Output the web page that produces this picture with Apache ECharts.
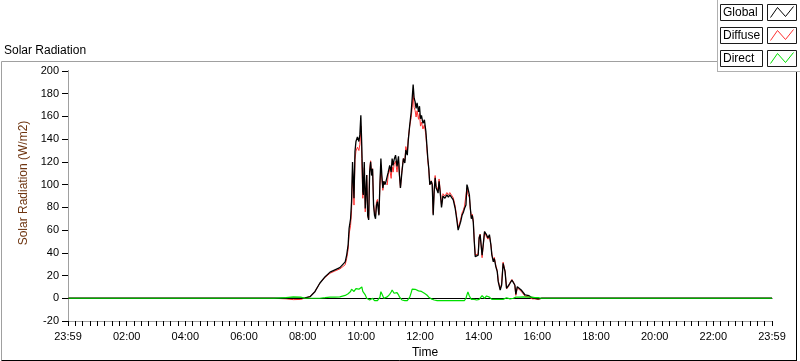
<!DOCTYPE html>
<html>
<head>
<meta charset="utf-8">
<script src="https://cdn.jsdelivr.net/npm/echarts@6/dist/echarts.min.js"></script>
<style>
html,body{margin:0;padding:0;background:#fff;}
#chart{width:800px;height:361px;}
</style>
</head>
<body>
<div id="chart"></div>
<script>
// ---- data ----
var seriesNames = ["Global", "Diffuse", "Direct"];
var xTickLabels = ["23:59","02:00","04:00","06:00","08:00","10:00","12:00","14:00","16:00","18:00","20:00","22:00","23:59"];
var yTicks = [-20, 0, 20, 40, 60, 80, 100, 120, 140, 160, 180, 200];

var times = ["00:00","07:00","07:25","07:40","07:55","08:04","08:14","08:24","08:34","08:45","08:55","09:05","09:15","09:26","09:29","09:32","09:34","09:37","09:39","09:41","09:44","09:46","09:48","09:51","09:54","09:56","09:58",
"10:00","10:02","10:03","10:05","10:07","10:10","10:12","10:14","10:16","10:18","10:20","10:22","10:24","10:26","10:28","10:30","10:32","10:35","10:37","10:39","10:41","10:43","10:45","10:47","10:49","10:52","10:54","10:57",
"11:00","11:02","11:04","11:06","11:09","11:12","11:15","11:17","11:19","11:22","11:25","11:28","11:30","11:33","11:35","11:38","11:41","11:43","11:45","11:47","11:49","11:51","11:53","11:56","11:58",
"12:00","12:02","12:05","12:08","12:11","12:13","12:15","12:17","12:19","12:22","12:24","12:26","12:28","12:30","12:32","12:34","12:36","12:38","12:41","12:43","12:46","12:50","12:54","12:57",
"13:00","13:04","13:07","13:11","13:14","13:17","13:19","13:22","13:25","13:28","13:30","13:33","13:35","13:37","13:40","13:42","13:44","13:46","13:48","13:50","13:52","13:55","13:58",
"14:00","14:02","14:04","14:06","14:09","14:11","14:13","14:15","14:18","14:21","14:24","14:26","14:29","14:31","14:34","14:37","14:39","14:43","14:46","14:49","14:53","14:56",
"15:00","15:03","15:07","15:10","15:13","15:15","15:18","15:22","15:26","15:30","15:34","15:38","15:42","15:48","15:54","16:01","16:07","16:20","23:59"];

var globalVals = [0,0,0,0,0,0.3,1.4,5.8,13.2,19,23,25,27,32,38,47,61.6,70,85,120,88,129,138,142,138,144,161,
133,94,91,120,79,108.5,73,69,111,120,108,114,82,73,70,82,85,73,100,123,108,97,103,100,102,101,111,117,
111,123,117,122,126,116,125,108.5,97,111,123,119,130.5,126,139,152.5,164,176,188,176,173,167,172,164,169,
158,161,154,157,147,135,123,114,100,103,100,73,94,106,97,95,92.5,103,90,80,90,88,91,89,
91,92.5,86.5,79,70,60,61.6,67,73,76,79,82,100,97,91,79,70,73,67,50,36.6,35,38,
53,56,47,38,50,58.6,60,56,53,56,47,38,32,35,28,23.4,14.6,7.3,11.7,30.8,23.4,8.8,
10.2,13.2,16,14.6,11.7,3.5,10.2,10.2,7.3,5.8,2.9,4.4,2.3,0.5,0,-0.6,0,0,0];

var diffuseVals = [0,0,-0.5,-1.2,-1,0.3,1.4,5.8,13.2,18.5,22,24,25.8,29.5,35,43,56.6,64,77,113,82,122,129.5,133,130,135.5,151.5,
123,88,86.6,115,76,108.5,72,70,112.5,121,108.5,114,83,75,72.5,85,87,74,99,117.2,104,95,103,101.5,103,99.8,109,113.5,
105.5,115.7,111,117.6,120.5,111,122,107.3,97,112.5,123,121,133.5,128,140.5,151.5,159,168,180,168,165.1,159.5,165,157.5,162.5,
151.5,155,149,152.6,143.5,132.1,121,113,100,103.5,101,74.5,95.5,108,99,97,94.5,105,92,82,92,90,93,91,
93,94.5,88.5,81,72,62,63.6,69,75,78,81,82,97,91.5,89,78.5,71,74,68,51,38.1,36.5,39,
54,56.5,47,35.7,49,58.6,60,54,52,55,47,39,33,36,29,24.4,15.6,8.3,12.7,31.8,23.9,8.3,
10.2,13.7,16.5,14.6,11.2,2.5,9.2,9.2,6.1,4.6,1.7,3.4,1.3,-0.5,-0.5,-1.1,0,0,0];

var directVals = [0,0,0.5,1.2,1,0,0,0,0,0.5,1,1,1.2,2.5,3,4,5,6,8,7,6,7,8.5,9,8,8.5,9.5,
10,6,4.4,5,3,0,1,-1,-1.5,-1,-0.5,0,-1,-2,-2.5,-3,-2,-1,1,5.8,4,2,0,-1.5,-1,1.2,2,3.5,
5.5,7.3,6,4.4,5.5,5,3,1.2,0,-1.5,0,-2,-3,-2,-1.5,1,5,8,8,8,7.9,7.5,7,6.5,6.5,
6.5,6,5,4.4,3.5,2.9,2,1,0,-0.5,-1,-1.5,-1.5,-2,-2,-2,-2,-2,-2,-2,-2,-2,-2,-2,
-2,-2,-2,-2,-2,-2,-2,-2,-2,-2,-2,0,3,5.5,2,0.5,-1,-1,-1,-1,-1.5,-1.5,-1,
-1,-0.5,0,2.3,1,0,0,2,1,1,0,-1,-1,-1,-1,-1,-1,-1,-1,-1,-0.5,0.5,
0,-0.5,-0.5,0,0.5,1,1,1,1.2,1.2,1.2,1,1,1,0.5,0.5,0,0,0];

// ---- helpers ----
function toOffset(t){ // minutes from the axis start (23:59 of the previous day)
  var p = t.split(":");
  return parseInt(p[0],10)*60 + parseInt(p[1],10) + 1;
}
function build(vals){ return times.map(function(t,i){ return [toOffset(t), vals[i]]; }); }

var FONT = "Liberation Sans";
var chart = echarts.init(document.getElementById('chart'), null, {renderer:'canvas'});

function legendRow(y, name, color){
  return [
    {type:'rect', shape:{x:720.5,y:y+0.5,width:42,height:16}, style:{fill:'#fff',stroke:'#1a1a1a',lineWidth:1}, z:101},
    {type:'text', style:{x:723,y:y+9,text:name,font:'12px "'+FONT+'"',fill:'#000',verticalAlign:'middle'}, z:102},
    {type:'rect', shape:{x:767.5,y:y+0.5,width:29,height:16}, style:{fill:'#fff',stroke:'#1a1a1a',lineWidth:1}, z:101},
    {type:'polyline', shape:{points:[[770.5,y+13.5],[777.5,y+3.5],[785.5,y+12.5],[793.5,y+2.5]]}, style:{stroke:color,lineWidth:1,fill:null}, z:102}
  ];
}

var graphics = [
  // outer frame
  {type:'line', shape:{x1:1.5,y1:61.5,x2:796.5,y2:61.5}, style:{stroke:'#a0a0a0',lineWidth:1}, z:50},
  {type:'line', shape:{x1:1.5,y1:61.5,x2:1.5,y2:360.5}, style:{stroke:'#a0a0a0',lineWidth:1}, z:50},
  {type:'line', shape:{x1:1.5,y1:360.5,x2:797,y2:360.5}, style:{stroke:'#000',lineWidth:1}, z:50},
  {type:'line', shape:{x1:796.5,y1:61.5,x2:796.5,y2:361}, style:{stroke:'#000',lineWidth:1}, z:50},
  // chart title
  {type:'text', style:{x:4,y:51,text:'Solar Radiation',font:'12px "'+FONT+'"',fill:'#000',verticalAlign:'middle'}, z:60},
  // legend panel
  {type:'rect', shape:{x:717,y:0,width:83,height:72}, style:{fill:'#fff'}, z:100},
  {type:'line', shape:{x1:717.5,y1:0,x2:717.5,y2:72}, style:{stroke:'#b0b0b0',lineWidth:1}, z:100},
  {type:'line', shape:{x1:717.5,y1:71.5,x2:800,y2:71.5}, style:{stroke:'#b0b0b0',lineWidth:1}, z:100}
].concat(legendRow(4, seriesNames[0], '#000'))
 .concat(legendRow(27, seriesNames[1], '#ff3030'))
 .concat(legendRow(50, seriesNames[2], '#00e000'));

var option = {
  backgroundColor:'#fff',
  animation:false,
  textStyle:{fontFamily:FONT},
  grid:{left:68, right:28, top:71, bottom:40, containLabel:false, outerBoundsMode:'none'},
  xAxis:[{
    type:'value', min:0, max:1440, interval:120,
    name:'Time', nameLocation:'middle', nameGap:26,
    nameTextStyle:{fontSize:12,color:'#000',fontFamily:FONT,padding:[0,0,0,10]},
    axisLine:{show:true,onZero:false,lineStyle:{color:'#a0a0a0',width:1}},
    axisTick:{show:true,length:5,lineStyle:{color:'#000'}},
    minorTick:{show:true,splitNumber:8,length:5,lineStyle:{color:'#000'}},
    axisLabel:{fontSize:11,color:'#000',fontFamily:FONT,margin:10,showMinLabel:true,showMaxLabel:true,
      formatter:function(v){ return xTickLabels[Math.round(v/120)]; }},
    splitLine:{show:false}
  },{
    type:'value', position:'top', min:0, max:1440,
    axisLine:{show:true,lineStyle:{color:'#000',width:1}},
    axisTick:{show:false}, axisLabel:{show:false}, splitLine:{show:false}
  }],
  yAxis:[{
    type:'value', min:yTicks[0], max:yTicks[yTicks.length-1], interval:20,
    name:'Solar Radiation (W/m2)', nameLocation:'middle', nameGap:36, nameRotate:90,
    nameTextStyle:{fontSize:12,color:'#6e3510',fontFamily:FONT,padding:[0,0,0,26]},
    axisLine:{show:true,onZero:false,lineStyle:{color:'#000',width:1}},
    axisTick:{show:true,length:6,lineStyle:{color:'#000'}},
    axisLabel:{fontSize:11,color:'#000',fontFamily:FONT,margin:9},
    splitLine:{show:false}
  },{
    type:'value', position:'right', min:-20, max:200,
    axisLine:{show:true,lineStyle:{color:'#a0a0a0',width:1}},
    axisTick:{show:false}, axisLabel:{show:false}, splitLine:{show:false}
  }],
  series:[
    {name:seriesNames[1], type:'line', data:build(diffuseVals), showSymbol:false, symbol:'none',
      lineStyle:{color:'#ff3030',width:1}, itemStyle:{color:'#ff3030'}, z:2},
    {name:seriesNames[0], type:'line', data:build(globalVals), showSymbol:false, symbol:'none',
      lineStyle:{color:'#000',width:1.3}, itemStyle:{color:'#000'}, z:3},
    {name:seriesNames[2], type:'line', data:build(directVals), showSymbol:false, symbol:'none',
      lineStyle:{color:'#00e000',width:1.2}, itemStyle:{color:'#00e000'}, z:4}
  ],
  graphic:graphics
};
chart.setOption(option);
</script>
</body>
</html>
